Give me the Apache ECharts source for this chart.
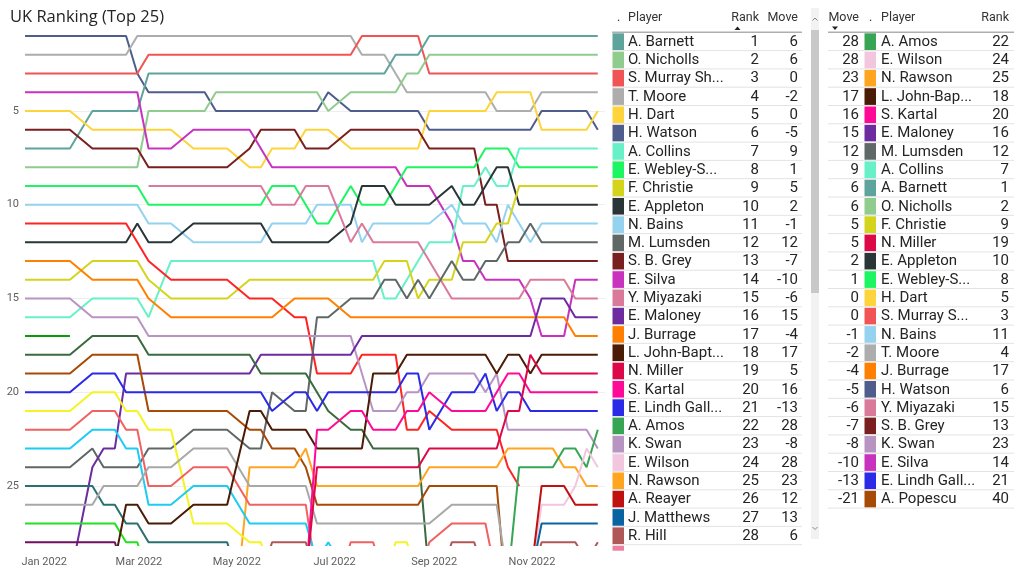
<!DOCTYPE html>
<html>
<head>
<meta charset="utf-8">
<script src="https://cdn.jsdelivr.net/npm/echarts@6/dist/echarts.min.js"></script>
<style>
html,body{margin:0;padding:0;background:#fff;}
#chart{width:1024px;height:580px;}
</style>
</head>
<body>
<div id="chart"></div>
<script>
// ---------- DATA ----------
// first ranking week (Monday); series points are [weekNumber, rank]
const firstWeek = '2021-12-20';
const monthTicks = ['2022-01-01','2022-03-01','2022-05-01','2022-07-01','2022-09-01','2022-11-01'];
const rankTicks = [5, 10, 15, 20, 25];

const watson   = [[0,1],[9,1],[10,3],[11,4],[16,4],[17,5],[26,5],[27,4],[29,5],[35,5],[36,6],[45,6],[46,5],[50,5],[51,6]];
const moore    = [[0,2],[9,2],[10,1],[29,1],[30,2],[32,2],[33,3],[34,4],[41,4],[42,5],[45,5],[46,4],[51,4]];
const murray   = [[0,3],[10,3],[11,2],[29,2],[30,1],[35,1],[36,3],[51,3]];
const barnett  = [[0,7],[4,7],[6,5],[10,5],[11,3],[32,3],[33,2],[35,2],[36,1],[51,1]];
const nicholls = [[0,8],[10,8],[11,5],[16,5],[17,4],[26,4],[27,5],[29,4],[33,4],[34,3],[35,3],[36,2],[51,2]];
const dart     = [[0,5],[4,5],[6,6],[13,6],[15,7],[18,7],[20,8],[21,8],[22,7],[24,7],[25,6],[27,6],[29,7],[35,7],[36,5],[41,5],[42,4],[45,4],[46,6],[50,6],[51,5]];
const sbgrey   = [[0,6],[4,6],[6,7],[10,7],[11,8],[18,8],[20,7],[21,6],[24,6],[25,7],[27,7],[29,6],[35,6],[36,7],[40,7],[41,10],[42,10],[43,13],[51,13]];
const silva    = [[0,4],[10,4],[11,7],[13,7],[15,6],[20,6],[22,8],[33,8],[34,9],[36,9],[38,11],[39,13],[40,13],[41,14],[44,14],[45,15],[46,17],[48,17],[49,14],[51,14]];
const webley   = [[0,9],[10,9],[11,10],[21,10],[22,9],[24,9],[25,10],[26,11],[27,11],[29,9],[30,10],[32,10],[33,9],[34,8],[40,8],[41,7],[43,7],[44,8],[51,8]];
const collins  = [[0,16],[4,16],[6,15],[10,15],[11,16],[13,13],[31,13],[32,15],[33,15],[34,14],[35,13],[36,12],[38,12],[39,9],[40,9],[41,8],[42,9],[43,9],[44,7],[51,7]];
const bains    = [[0,10],[10,10],[11,11],[13,11],[15,12],[21,12],[22,11],[25,11],[26,10],[29,10],[30,12],[31,11],[36,11],[38,10],[39,11],[41,11],[42,12],[43,10],[45,12],[46,11],[51,11]];
const appleton = [[0,12],[9,12],[10,11],[11,12],[13,12],[15,11],[21,11],[22,12],[27,12],[29,11],[30,9],[32,9],[33,10],[36,10],[38,9],[39,10],[40,10],[41,9],[42,8],[43,8],[44,10],[51,10]];
const christie = [[0,14],[4,14],[6,13],[10,13],[11,14],[13,15],[18,15],[20,14],[31,14],[32,13],[34,13],[35,15],[36,14],[38,14],[39,12],[41,12],[42,11],[43,11],[44,9],[51,9]];
const redOther = [[0,11],[9,11],[11,13],[13,14],[18,14],[20,15],[22,15],[24,16],[25,16],[26,19],[29,19],[30,18],[33,18],[34,22],[35,22],[36,21],[38,22],[42,22],[43,24],[44,25]];
const miyazaki = [[11,9],[21,9],[22,10],[24,10],[25,9],[27,9],[29,12],[30,11],[31,12],[35,12],[38,15],[44,15],[45,14],[48,14],[49,15],[51,15]];
const lumsden  = [[0,24],[4,24],[6,23],[7,24],[10,24],[11,23],[13,23],[15,22],[18,22],[20,23],[21,23],[22,20],[24,21],[25,21],[26,16],[27,16],[29,15],[31,15],[32,14],[33,14],[34,15],[35,14],[36,15],[38,13],[39,14],[40,14],[41,13],[42,13],[43,12],[44,12],[45,11],[46,12],[51,12]];
const burrage  = [[0,13],[4,13],[6,14],[10,14],[11,15],[13,16],[22,16],[24,15],[27,15],[29,16],[48,16],[49,17],[51,17]];
const swan     = [[0,15],[4,15],[6,16],[10,16],[11,17],[29,17],[31,21],[33,21],[34,20],[35,20],[36,19],[40,19],[41,20],[42,19],[43,22],[50,22],[51,23]];
const maloney  = [[0,31],[4,30],[6,24],[7,23],[8,23],[9,19],[20,19],[21,18],[29,18],[30,17],[45,17],[46,15],[48,15],[49,16],[51,16]];
const greenDark= [[0,18],[4,18],[6,17],[10,17],[11,18],[20,18],[21,19],[25,19],[26,20],[27,21],[29,22],[30,22],[31,23],[35,23],[36,30]];
const greenShort=[[0,17],[4,17]];
const popescu  = [[0,19],[4,19],[6,18],[10,18],[11,21],[18,21],[20,22],[21,22],[22,23],[24,23],[25,24],[26,26],[35,26],[36,25],[42,25],[43,32],[51,40]];
const rawson   = [[19,30],[20,24],[24,24],[25,23],[26,25],[35,25],[36,24],[42,24],[43,23],[47,23],[48,24],[49,24],[50,25],[51,25]];
const lindh    = [[0,20],[4,20],[6,19],[8,19],[9,20],[21,20],[22,21],[24,20],[25,20],[26,21],[27,20],[33,20],[34,19],[35,19],[36,22],[38,20],[40,20],[41,19],[42,21],[43,20],[44,20],[45,21],[51,21]];
const yellowOther=[[0,21],[4,21],[6,20],[8,20],[9,21],[10,21],[11,22],[13,22],[15,27],[18,27],[20,28],[21,28],[22,30],[32,30],[33,28],[34,28],[35,30]];
const salmonOther=[[0,22],[4,22],[6,21],[8,21],[9,22],[10,22],[11,25],[13,25],[15,24],[18,24],[20,26],[25,26],[26,30],[28,30],[29,28],[31,28],[32,30],[35,30],[36,28],[38,27],[41,27],[42,30]];
const cyanOther= [[0,23],[4,23],[6,22],[8,22],[9,23],[10,23],[11,26],[13,26],[15,25],[18,25],[20,27],[25,27],[26,29],[27,28],[28,29]];
const tealOther= [[0,25],[6,25],[7,26],[8,26],[9,27],[10,27],[11,28],[18,28],[19,30]];
const grayOther= [[0,26],[6,26],[7,25],[10,25],[11,24],[13,24],[15,23],[18,23],[20,25],[25,25],[26,27],[36,27],[38,26],[42,26],[43,30]];
const greenOther=[[0,27],[8,27],[9,28],[10,28],[11,30]];
const plumOther= [[0,28],[8,28],[9,30]];
const johnBapt = [[8,29],[9,26],[10,26],[11,27],[13,27],[15,26],[18,26],[20,21],[21,21],[22,22],[25,22],[26,23],[30,23],[31,19],[33,19],[34,18],[41,18],[42,19],[43,18],[44,18],[45,19],[46,18],[51,18]];
const kartal   = [[25,30],[26,22],[27,22],[29,21],[30,21],[31,22],[33,22],[34,21],[35,21],[36,20],[38,21],[41,21],[42,20],[43,19],[44,19],[45,20],[51,20]];
const miller   = [[25,30],[26,24],[35,24],[36,23],[42,23],[43,21],[44,21],[45,18],[46,19],[51,19]];
const amos     = [[43,30],[44,24],[47,24],[48,23],[49,23],[50,24],[51,22]];
const wilson   = [[45,30],[46,26],[48,26],[49,25],[50,23],[51,24]];
const reayer   = [[45,30],[46,25],[48,25],[49,26],[51,26]];
const matthews = [[45,30],[46,27],[51,27]];
const hill     = [[21,30],[22,28],[25,28],[26,30],[37,30],[38,28],[40,28],[41,30],[45,30],[46,28],[49,28],[50,29],[51,28]];

const seriesNames = ['H. Watson','T. Moore','S. Murray Sh.','A. Barnett','O. Nicholls','H. Dart','S. B. Grey','E. Silva','E. Webley-S.','A. Collins','N. Bains','E. Appleton','F. Christie','Player 11','Y. Miyazaki','M. Lumsden','J. Burrage','K. Swan','E. Maloney','Player 18','Player 17','A. Popescu','N. Rawson','E. Lindh Gall.','Player 21','Player 22','Player 23','Player 25','Player 26','Player 27','Player 28','L. John-Bapt.','S. Kartal','N. Miller','A. Amos','E. Wilson','A. Reayer','J. Matthews','R. Hill'];
const seriesData = [watson,moore,murray,barnett,nicholls,dart,sbgrey,silva,webley,collins,bains,appleton,christie,redOther,miyazaki,lumsden,burrage,swan,maloney,greenDark,greenShort,popescu,rawson,lindh,yellowOther,salmonOther,cyanOther,tealOther,grayOther,greenOther,plumOther,johnBapt,kartal,miller,amos,wilson,reayer,matthews,hill];
const seriesColors = ['#4E5D8C','#ADADAD','#F05454','#5FA39D','#8FCC8E','#FDD43C','#7A1F1F','#C832BF','#1EF562','#68F0C8','#94D2EF','#2A3537','#D5D41D','#FF2424','#DA7A9A','#5F6866','#FF8000','#B894C3','#6C2CA0','#3A6A40','#0A9A0A','#A64A05','#FFA520','#2B2AE6','#F4F424','#F06262','#1ECBF2','#2A7070','#A8A8A8','#22E022','#701060','#4A1B05','#FF0A96','#DC0848','#38A555','#F2C6DF','#C01010','#0A64A2','#B05757'];

// left table (sorted by rank)
const leftPlayers = ['A. Barnett','O. Nicholls','S. Murray Sh...','T. Moore','H. Dart','H. Watson','A. Collins','E. Webley-S...','F. Christie','E. Appleton','N. Bains','M. Lumsden','S. B. Grey','E. Silva','Y. Miyazaki','E. Maloney','J. Burrage','L. John-Bapt...','N. Miller','S. Kartal','E. Lindh Gall...','A. Amos','K. Swan','E. Wilson','N. Rawson','A. Reayer','J. Matthews','R. Hill'];
const leftRanks = [1,2,3,4,5,6,7,8,9,10,11,12,13,14,15,16,17,18,19,20,21,22,23,24,25,26,27,28];
const leftMoves = [6,6,0,-2,0,-5,9,1,5,2,-1,12,-7,-10,-6,15,-4,17,5,16,-13,28,-8,28,23,12,13,6];
const leftColors = ['#5FA39D','#8FCC8E','#F05454','#ADADAD','#FDD43C','#4E5D8C','#68F0C8','#1EF562','#D5D41D','#2A3537','#94D2EF','#5F6866','#7A1F1F','#C832BF','#DA7A9A','#6C2CA0','#FF8000','#4A1B05','#DC0848','#FF0A96','#2B2AE6','#38A555','#B894C3','#F2C6DF','#FFA520','#C01010','#0A64A2','#B05757'];

// right table (sorted by move)
const rightMoves = [28,28,23,17,16,15,12,9,6,6,5,5,2,1,0,0,-1,-2,-4,-5,-6,-7,-8,-10,-13,-21];
const rightPlayers = ['A. Amos','E. Wilson','N. Rawson','L. John-Bap...','S. Kartal','E. Maloney','M. Lumsden','A. Collins','A. Barnett','O. Nicholls','F. Christie','N. Miller','E. Appleton','E. Webley-S...','H. Dart','S. Murray S...','N. Bains','T. Moore','J. Burrage','H. Watson','Y. Miyazaki','S. B. Grey','K. Swan','E. Silva','E. Lindh Gall...','A. Popescu'];
const rightRanks = [22,24,25,18,20,16,12,7,1,2,9,19,10,8,5,3,11,4,17,6,15,13,23,14,21,40];
const rightColors = ['#38A555','#F2C6DF','#FFA520','#4A1B05','#FF0A96','#6C2CA0','#5F6866','#68F0C8','#5FA39D','#8FCC8E','#D5D41D','#DC0848','#2A3537','#1EF562','#FDD43C','#F05454','#94D2EF','#ADADAD','#FF8000','#4E5D8C','#DA7A9A','#7A1F1F','#B894C3','#C832BF','#2B2AE6','#A64A05'];

// ---------- BUILD ----------
const DAY = 86400000;
const t0 = Date.parse(firstWeek + 'T00:00:00Z');
const weekTime = w => t0 + w * 7 * DAY;
const monthVals = monthTicks.map(d => Date.parse(d + 'T00:00:00Z'));
const MONTHS = ['Jan','Feb','Mar','Apr','May','Jun','Jul','Aug','Sep','Oct','Nov','Dec'];

const series = seriesData.map((d, i) => ({
  type: 'line',
  name: seriesNames[i],
  data: d.map(p => [weekTime(p[0]), p[1]]),
  showSymbol: false,
  symbol: 'none',
  clip: true,
  lineStyle: { width: 2, color: seriesColors[i] },
  itemStyle: { color: seriesColors[i] },
  z: 2
}));

const FONT = 'Roboto, "Noto Sans", sans-serif';
const TXT = '#252423';
const g = [];
const rowH = 18.3;
const headY = 18;
const firstLine = 32.3;
const cellSize = 15;

function txt(x, y, s, align, size, color, weight) {
  g.push({ type: 'text', x: x, y: y, silent: true,
    style: { text: String(s), align: align || 'left', verticalAlign: 'middle',
      fontFamily: FONT, fontSize: size || cellSize, fill: color || TXT, fontWeight: weight || 'normal' } });
}
function hline(x1, x2, y, color, w) {
  g.push({ type: 'line', silent: true, shape: { x1: x1, y1: y, x2: x2, y2: y },
    style: { stroke: color, lineWidth: w || 1 } });
}
function rect(x, y, w, h, color) {
  g.push({ type: 'rect', silent: true, shape: { x: x, y: y, width: w, height: h }, style: { fill: color } });
}

// left table
txt(617, headY, '.', 'left', 12.5, '#333');
txt(628, headY, 'Player', 'left', 12.5, '#333');
txt(759, headY, 'Rank', 'right', 12.5, '#333');
txt(798, headY, 'Move', 'right', 12.5, '#333');
g.push({ type: 'polygon', silent: true, shape: { points: [[734.5, 30], [740.5, 30], [737.5, 26.5]] }, style: { fill: '#222' } });
hline(612, 802, firstLine, '#AFAFAF', 1.5);
leftPlayers.forEach((p, i) => {
  const top = firstLine + i * rowH;
  const cy = top + rowH / 2 + 0.6;
  rect(612.5, top + 1, 11.5, rowH - 1.6, leftColors[i]);
  txt(628, cy, p);
  txt(759, cy, leftRanks[i], 'right');
  txt(798, cy, leftMoves[i], 'right');
  hline(612, 802, top + rowH, '#E3E3E3', 1);
});
// partially visible next row swatch
rect(612.5, firstLine + 28 * rowH + 1, 11.5, 5, '#EE7FA0');

// scrollbar of left table
rect(811, 8, 8, 531, '#F2F2F2');
rect(811, 30, 8, 263, '#C8C8C8');
g.push({ type: 'polyline', silent: true, shape: { points: [[812.5, 20.5], [815, 18], [817.5, 20.5]] }, style: { stroke: '#888', lineWidth: 1, fill: null } });
g.push({ type: 'polyline', silent: true, shape: { points: [[812.5, 527], [815, 529.5], [817.5, 527]] }, style: { stroke: '#888', lineWidth: 1, fill: null } });

// right table
txt(859, headY, 'Move', 'right', 12.5, '#333');
txt(869, headY, '.', 'left', 12.5, '#333');
txt(881, headY, 'Player', 'left', 12.5, '#333');
txt(1009, headY, 'Rank', 'right', 12.5, '#333');
g.push({ type: 'polygon', silent: true, shape: { points: [[832, 26.5], [838, 26.5], [835, 30]] }, style: { fill: '#222' } });
hline(828, 1014, firstLine, '#AFAFAF', 1.5);
rightPlayers.forEach((p, i) => {
  const top = firstLine + i * rowH;
  const cy = top + rowH / 2 + 0.6;
  txt(859, cy, rightMoves[i], 'right');
  rect(864.5, top + 1, 11.5, rowH - 1.6, rightColors[i]);
  txt(881, cy, p);
  txt(1009, cy, rightRanks[i], 'right');
  hline(828, 1014, top + rowH, '#E3E3E3', 1);
});

const option = {
  animation: false,
  backgroundColor: '#ffffff',
  title: {
    text: 'UK Ranking (Top 25)', left: 5, top: 4,
    textStyle: { fontFamily: '"Open Sans", "Noto Sans", sans-serif', fontSize: 16.5, fontWeight: 'normal', color: '#252423' }
  },
  grid: { left: 25, right: 419, top: 28, bottom: 35, containLabel: false },
  xAxis: {
    type: 'value',
    min: weekTime(0),
    max: weekTime(51) + 4.5 * DAY,
    axisLine: { show: false },
    axisTick: { show: false, customValues: monthVals },
    splitLine: { show: false },
    axisLabel: {
      customValues: monthVals,
      formatter: v => { const d = new Date(v); return MONTHS[d.getUTCMonth()] + ' ' + d.getUTCFullYear(); },
      color: '#605E5C', fontSize: 11, fontFamily: FONT, margin: 12
    }
  },
  yAxis: {
    type: 'value',
    inverse: true,
    min: 0.573,
    max: 28.15,
    axisLine: { show: false },
    axisTick: { show: false, customValues: rankTicks },
    splitLine: { show: true, lineStyle: { color: '#EEEEEE', width: 1 } },
    axisLabel: { customValues: rankTicks, color: '#605E5C', fontSize: 11, fontFamily: FONT, margin: 6 }
  },
  series: series,
  graphic: g
};

const chart = echarts.init(document.getElementById('chart'), null, { renderer: 'canvas' });
chart.setOption(option);
</script>
</body>
</html>
